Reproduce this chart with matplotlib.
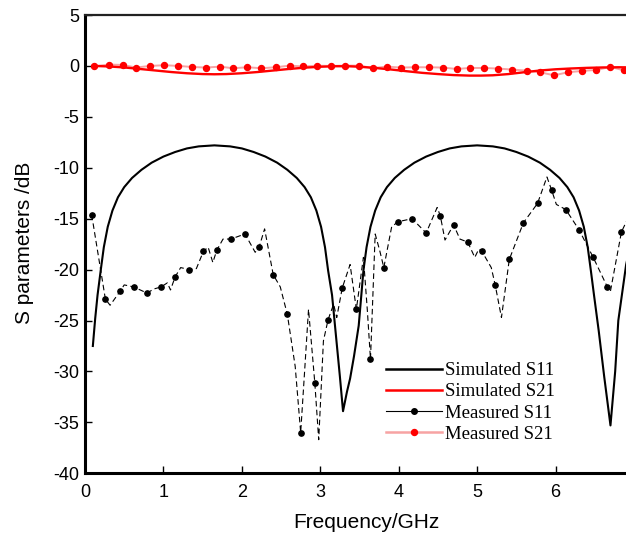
import matplotlib
matplotlib.use("Agg")
import matplotlib.pyplot as plt
from matplotlib.lines import Line2D

# ---------------- data ----------------
sim_s11_f = [0.10, 0.13, 0.16, 0.20, 0.24, 0.29, 0.35, 0.42, 0.50, 0.60, 0.72, 0.85, 1.00, 1.15,
             1.30, 1.45, 1.65, 1.85, 2.00, 2.15, 2.30, 2.45, 2.58, 2.70, 2.80, 2.88, 2.95, 3.01,
             3.06, 3.10, 3.15, 3.20, 3.25, 3.29, 3.34, 3.38, 3.43, 3.49, 3.55, 3.59, 3.64, 3.70,
             3.77, 3.85, 3.95, 4.07, 4.20, 4.35, 4.50, 4.65, 4.80, 5.00, 5.20, 5.35, 5.50, 5.65,
             5.80, 5.93, 6.05, 6.15, 6.23, 6.30, 6.36, 6.41, 6.45, 6.49, 6.55, 6.62, 6.70, 6.76,
             6.80, 6.90, 7.00]
sim_s11_db = [-27.5, -24.8, -22.5, -20.1, -17.8, -15.8, -14.2, -12.9, -11.9, -11.0, -10.2, -9.5, -8.9, -8.45,
              -8.1, -7.9, -7.8, -7.9, -8.1, -8.45, -8.9, -9.5, -10.2, -11.0, -11.9, -12.9, -14.2, -15.8,
              -17.8, -20.1, -22.5, -26.5, -30.5, -33.9, -32.0, -30.7, -28.5, -25.5, -20.1, -17.8, -15.8, -14.2,
              -12.9, -11.9, -11.0, -10.2, -9.5, -8.9, -8.45, -8.1, -7.9, -7.8, -7.9, -8.1, -8.45, -8.9,
              -9.5, -10.2, -11.0, -11.9, -12.9, -14.2, -15.8, -17.8, -20.1, -22.5, -26.0, -30.5, -35.3, -30.0,
              -25.0, -19.5, -16.0]

sim_s21_f = [0.10, 0.30, 0.50, 0.70, 0.90, 1.10, 1.30, 1.50, 1.65, 1.80, 2.00, 2.20, 2.40, 2.60,
             2.80, 3.00, 3.20, 3.35, 3.50, 3.70, 3.90, 4.10, 4.30, 4.50, 4.70, 4.90, 5.05, 5.20,
             5.40, 5.60, 5.80, 6.00, 6.20, 6.40, 6.60, 6.80, 7.00]
sim_s21_db = [0.0, -0.05, -0.15, -0.30, -0.45, -0.60, -0.72, -0.80, -0.82, -0.80, -0.72, -0.60, -0.45, -0.30,
              -0.17, -0.08, -0.03, -0.03, -0.08, -0.20, -0.35, -0.52, -0.68, -0.80, -0.90, -0.95, -0.95, -0.92,
              -0.80, -0.62, -0.45, -0.33, -0.25, -0.19, -0.15, -0.13, -0.15]

meas_s11_f = [0.085, 0.26, 0.32, 0.45, 0.50, 0.62, 0.79, 0.88, 0.97, 1.05, 1.09, 1.15, 1.22, 1.33,
              1.42, 1.51, 1.57, 1.63, 1.68, 1.76, 1.86, 2.04, 2.17, 2.22, 2.29, 2.40, 2.49, 2.58,
              2.68, 2.75, 2.80, 2.85, 2.93, 2.98, 3.04, 3.10, 3.17, 3.21, 3.28, 3.38, 3.46, 3.55,
              3.60, 3.64, 3.70, 3.76, 3.81, 3.91, 3.99, 4.17, 4.35, 4.49, 4.53, 4.59, 4.70, 4.78,
              4.88, 4.97, 5.02, 5.06, 5.18, 5.23, 5.31, 5.41, 5.59, 5.77, 5.89, 5.95, 6.01, 6.13,
              6.30, 6.48, 6.66, 6.70, 6.84, 6.92, 7.00]
meas_s11_db = [-14.6, -22.9, -23.5, -22.1, -21.5, -21.7, -22.3, -21.9, -21.7, -21.3, -22.0, -20.7, -19.8, -20.0,
               -19.9, -18.2, -17.8, -19.3, -18.1, -17.0, -17.0, -16.5, -18.3, -17.8, -16.0, -20.5, -21.7, -24.4,
               -29.5, -36.0, -30.0, -23.9, -31.1, -36.7, -27.0, -24.9, -23.4, -24.7, -21.8, -19.5, -23.9, -18.8,
               -24.0, -28.8, -16.5, -18.2, -19.8, -15.8, -15.3, -15.0, -16.4, -13.9, -14.7, -17.1, -15.6, -17.0,
               -17.3, -18.8, -18.0, -18.2, -19.8, -21.5, -24.7, -19.0, -15.4, -13.5, -10.9, -12.2, -13.6, -14.1,
               -16.1, -18.8, -21.7, -22.1, -16.3, -15.0, -14.0]

meas_s11_mk_f = [0.085, 0.26, 0.45, 0.62, 0.79, 0.97, 1.15, 1.33, 1.51, 1.68, 1.86, 2.04, 2.22, 2.40,
                 2.58, 2.75, 2.93, 3.10, 3.28, 3.46, 3.64, 3.81, 3.99, 4.17, 4.35, 4.53, 4.70, 4.88,
                 5.06, 5.23, 5.41, 5.59, 5.77, 5.95, 6.13, 6.30, 6.48, 6.66, 6.84]
meas_s11_mk_db = [-14.6, -22.9, -22.1, -21.7, -22.3, -21.7, -20.7, -20.0, -18.2, -18.1, -17.0, -16.5, -17.8, -20.5,
                  -24.4, -36.0, -31.1, -24.9, -21.8, -23.9, -28.8, -19.8, -15.3, -15.0, -16.4, -14.7, -15.6, -17.3,
                  -18.2, -21.5, -19.0, -15.4, -13.5, -12.2, -14.1, -16.1, -18.8, -21.7, -16.3]

meas_s21_f = [0.12, 0.30, 0.48, 0.65, 0.83, 1.01, 1.19, 1.36, 1.54, 1.72, 1.89, 2.07, 2.25, 2.43,
              2.61, 2.78, 2.96, 3.14, 3.32, 3.49, 3.67, 3.85, 4.03, 4.21, 4.38, 4.56, 4.74, 4.91,
              5.09, 5.27, 5.45, 5.63, 5.80, 5.98, 6.16, 6.34, 6.52, 6.70, 6.87]
meas_s21_db = [-0.03, 0.13, 0.10, -0.16, 0.0, 0.07, 0.0, -0.10, -0.16, -0.07, -0.23, -0.13, -0.23, -0.13,
               0.03, -0.05, 0.02, 0.0, 0.03, 0.03, -0.20, -0.07, -0.16, -0.13, -0.13, -0.16, -0.30, -0.20,
               -0.20, -0.26, -0.36, -0.46, -0.62, -0.92, -0.62, -0.49, -0.39, -0.10, -0.43]

legend_labels = ["Simulated S11", "Simulated S21", "Measured S11", "Measured S21"]
xticks = [0, 1, 2, 3, 4, 5, 6, 7]
yticks = [-40, -35, -30, -25, -20, -15, -10, -5, 0, 5]

# ---------------- figure ----------------
W, H = 626, 535
fig = plt.figure(figsize=(W / 100, H / 100), dpi=100)
ax_l, ax_r, ax_t, ax_b = 85, 634, 15, 473.3
ax = fig.add_axes([ax_l / W, 1 - ax_b / H, (ax_r - ax_l) / W, (ax_b - ax_t) / H])

pink = "#f7a3a3"
ax.plot(meas_s21_f, meas_s21_db, color=pink, lw=1.4, zorder=2)
ax.plot(meas_s21_f, meas_s21_db, ls="none", marker="o", ms=4.3, color="#ff0000", zorder=4)
ax.plot(sim_s21_f, sim_s21_db, color="#ff0000", lw=1.7, zorder=3)

ax.plot(meas_s11_f, meas_s11_db, color="black", lw=0.8, dashes=(5, 3), zorder=2)
ax.plot(meas_s11_mk_f, meas_s11_mk_db, ls="none", marker="o", ms=3.8, color="black", zorder=4)
ax.plot(sim_s11_f, sim_s11_db, color="black", lw=1.5, zorder=3)

ax.set_xlim(0, 7)
ax.set_ylim(-40, 5)
ax.set_xticks(xticks)
ax.set_yticks(yticks)
tick_font = dict(family="Liberation Sans", size=13)
ax.set_xticklabels([str(t) for t in xticks], fontdict=tick_font)
ax.set_yticklabels([str(t) for t in yticks], fontdict=tick_font)
ax.tick_params(axis="x", direction="in", length=5, width=1, pad=8, top=False)
ax.tick_params(axis="y", direction="in", length=5, width=1, pad=4, right=False)

for side in ["left", "bottom"]:
    ax.spines[side].set_linewidth(2.2)
ax.spines["top"].set_linewidth(1.6)
ax.spines["top"].set_color("#222222")
ax.spines["right"].set_visible(False)

ax.set_xlabel("Frequency/GHz", family="Liberation Sans", fontsize=15)
ax.set_ylabel("S parameters /dB", family="Liberation Sans", fontsize=15)
ax.xaxis.set_label_coords(0.512, -0.087)
ax.yaxis.set_label_coords(-0.093, 0.503)

handles = [
    Line2D([], [], color="black", lw=1.8),
    Line2D([], [], color="#ff0000", lw=1.8),
    Line2D([], [], color="black", lw=0.8, marker="o", ms=4),
    Line2D([], [], color=pink, lw=1.8, marker="o", ms=4.3, mfc="#ff0000", mec="#ff0000"),
]
fig.legend(handles, legend_labels, loc="upper left",
           bbox_to_anchor=(386 / W, 1 - 362 / H), frameon=False,
           prop=dict(family="Liberation Serif", size=13.5), handlelength=3.0,
           handletextpad=0.15, labelspacing=0.22, borderpad=0, borderaxespad=0,
           numpoints=1)

fig.savefig("out.png", dpi=100)
